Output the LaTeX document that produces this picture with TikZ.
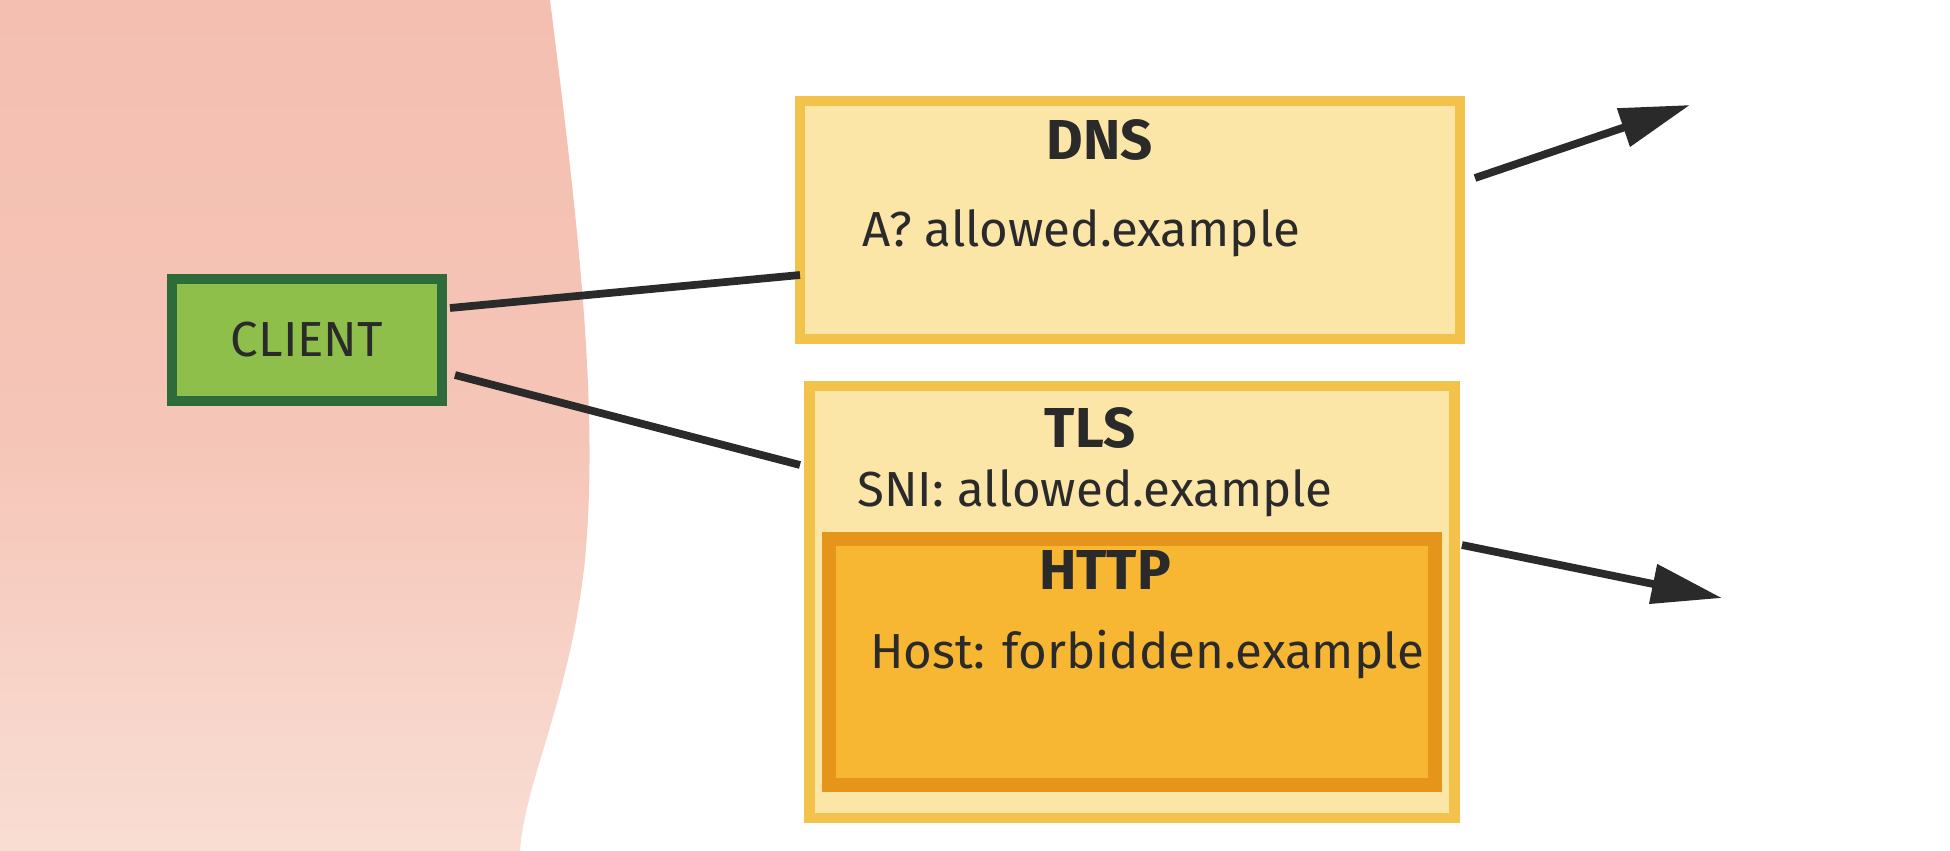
\documentclass[tikz,border=0pt]{standalone}
\usepackage{fontspec}
\setmainfont{Fira Sans}
\usetikzlibrary{positioning,arrows.meta}
\definecolor{blush}{HTML}{F4BFB0}
\definecolor{blushpale}{HTML}{F9DDD3}
\definecolor{leaf}{HTML}{8DBF4A}
\definecolor{leafdark}{HTML}{2E6B3A}
\definecolor{paleyellow}{HTML}{FBE6A8}
\definecolor{paleedge}{HTML}{F3C24A}
\definecolor{amber}{HTML}{F7B733}
\definecolor{amberedge}{HTML}{E5951A}
\definecolor{ink}{HTML}{2A2A2A}
\tikzset{
  label text/.style={font=\fontsize{14}{17}\selectfont, text=ink},
  title text/.style={font=\fontsize{16}{18}\selectfont\bfseries, text=ink},
  wire/.style={draw=ink, line width=2.2pt},
  packet/.style={draw=paleedge, fill=paleyellow, line width=3pt},
}
\begin{document}
\begin{tikzpicture}[x=0.01cm,y=-0.01cm]
  \useasboundingbox (0,0) rectangle (1950,851);
  % pink background blob
  \shade[top color=blush, bottom color=blushpale, middle color=blush!80!blushpale]
     (0,0) -- (550,0) .. controls (575,200) and (600,400) .. (585,560)
     .. controls (570,700) and (525,780) .. (520,851) -- (0,851) -- cycle;

  \node[draw=leafdark, fill=leaf, line width=3pt, minimum width=2.7cm, minimum height=1.22cm,
        label text] (client) at (307,340) {CLIENT};

  \node[packet, minimum width=6.6cm, minimum height=2.38cm] (dns) at (1130,220) {};
  \node[title text] (dnst) at (1100,140) {DNS};
  \node[label text, anchor=west] (dnsq) at (850,233) {A? allowed.example};

  \node[packet, minimum width=6.45cm, minimum height=4.32cm] (tls) at (1132,602) {};
  \node[title text] (tlst) at (1090,428) {TLS};
  \node[label text, anchor=west] (sni) at (845,493) {SNI: allowed.example};
  \node[draw=amberedge, fill=amber, line width=4pt, minimum width=6.05cm, minimum height=2.45cm] (http) at (1132,662) {};
  \node[title text] (httpt) at (1105,570) {HTTP};
  \node[label text, anchor=west] (host) at (858,655) {Host: forbidden.example};

  \coordinate (c1) at (450,308);
  \coordinate (c2) at (455,375);
  \coordinate (d1) at (800,275);
  \coordinate (t1) at (800,465);
  \coordinate (dout) at (1475,178);
  \coordinate (dend) at (1690,105);
  \coordinate (tout) at (1462,545);
  \coordinate (tend) at (1722,598);

  \draw[wire] (c1) -- (d1);
  \draw[wire] (c2) -- (t1);
  \draw[wire,-{Triangle[length=20pt,width=11pt]}] (dout) -- (dend);
  \draw[wire,-{Triangle[length=20pt,width=11pt]}] (tout) -- (tend);
\end{tikzpicture}
\end{document}
